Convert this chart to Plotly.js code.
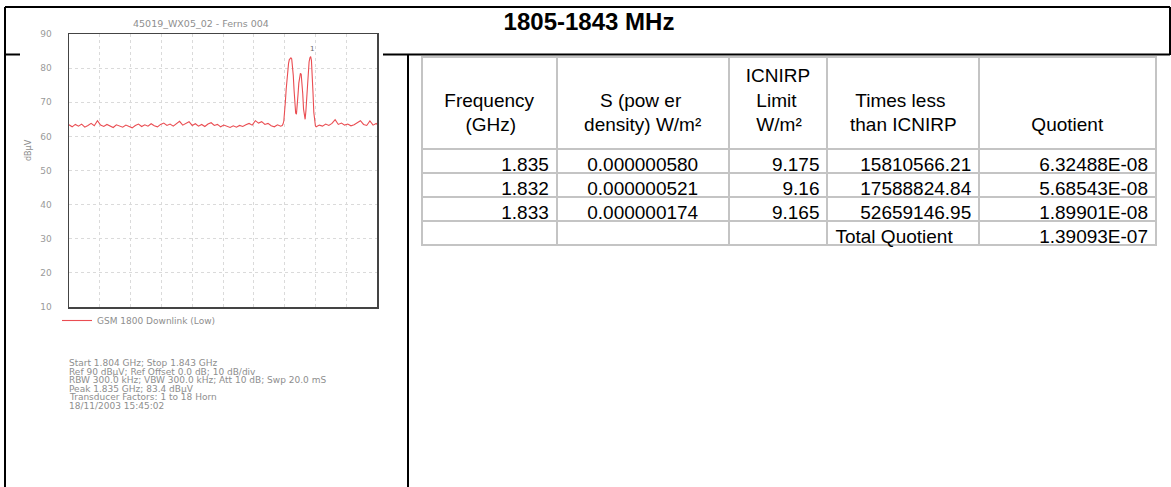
<!DOCTYPE html>
<html><head><meta charset="utf-8">
<script src="https://cdn.plot.ly/plotly-3.0.1.min.js"></script>
<style>html,body{margin:0;padding:0;background:#fff;overflow:hidden}#chart{width:1171px;height:487px}</style>
</head><body><div id="chart"></div>
<script>
// ---------- spectrum data ----------
const sweepFreqGHz = [
 1.8040,1.8044,1.8048,1.8052,1.8056,1.8060,1.8064,1.8068,1.8072,1.8076,
 1.8080,1.8084,1.8088,1.8092,1.8096,1.8100,1.8104,1.8108,1.8112,1.8116,
 1.8120,1.8124,1.8128,1.8132,1.8136,1.8140,1.8144,1.8148,1.8152,1.8156,
 1.8160,1.8164,1.8168,1.8172,1.8176,1.8180,1.8184,1.8188,1.8192,1.8196,
 1.8200,1.8204,1.8208,1.8212,1.8216,1.8220,1.8224,1.8228,1.8232,1.8236,
 1.8240,1.8244,1.8248,1.8252,1.8256,1.8260,1.8264,1.8268,1.8272,1.8276,
 1.8280,1.8284,1.8288,1.8292,1.8296,1.8300,1.8304,1.8308,
 1.8310,1.8311,1.8312,1.8313,1.8314,1.8315,1.8316,1.8317,1.8318,1.8319,
 1.8320,1.8321,1.8322,1.8323,1.8324,1.8325,1.8326,1.8327,1.8328,1.8329,
 1.8330,1.8331,1.8332,1.8333,1.8334,1.8335,1.8336,1.8337,1.8338,1.8339,
 1.8340,1.8341,1.8342,1.8343,1.8344,1.8345,1.8346,1.8347,1.8348,1.8349,
 1.8350,1.8351,1.8352,1.8353,
 1.8357,1.8361,1.8365,1.8369,1.8373,1.8377,1.8381,1.8385,1.8389,1.8393,
 1.8397,1.8401,1.8405,1.8409,1.8413,1.8417,1.8421,1.8425,1.8429,1.8430
];
const levelDbuV = [
 63.4,62.8,63.5,63.0,63.6,62.7,63.2,63.8,63.1,64.6,
 63.3,62.9,63.5,63.0,62.6,63.4,63.1,62.7,63.3,63.0,
 62.5,63.2,63.6,62.9,63.4,63.0,63.7,63.1,62.8,63.5,
 63.9,63.2,63.6,63.0,63.8,64.4,63.3,63.9,64.3,63.2,
 63.7,63.0,63.5,62.9,63.6,64.0,63.2,63.5,62.8,63.3,
 63.0,62.6,63.1,62.7,63.2,62.9,63.4,63.8,63.3,64.6,
 63.9,64.3,63.5,63.8,63.1,62.8,63.4,63.0,
 63.2,63.6,64.5,66.8,70.2,73.8,77.0,79.6,81.4,82.5,
 82.9,83.0,82.7,81.0,77.8,73.5,69.6,66.8,66.5,68.8,
 72.3,75.6,77.7,78.5,78.2,76.2,72.4,68.0,65.2,65.0,
 67.5,71.8,76.0,79.5,81.8,83.0,83.4,82.2,78.5,72.6,
 67.0,64.0,63.1,62.8,
 63.3,63.0,63.6,63.2,63.8,64.9,63.5,63.9,63.3,63.6,
 63.1,63.4,63.9,64.6,63.5,63.2,64.5,63.3,63.8,63.5
];
const traceName = 'GSM 1800 Downlink (Low)';
const spectrumTitle = '45019_WX05_02 - Ferns 004';
const yAxisLabel = 'dB\u03bcV';
const sweepRange = [1.804, 1.843];
const levelRange = [10, 90];
const infoLines = [
 'Start 1.804 GHz; Stop 1.843 GHz',
 'Ref 90 dB\u03bcV; Ref Offset 0.0 dB; 10 dB/div',
 'RBW 300.0 kHz; VBW 300.0 kHz; Att 10 dB; Swp 20.0 mS',
 'Peak 1.835 GHz; 83.4 dB\u03bcV',
 'Transducer Factors: 1 to 18 Horn',
 '18/11/2003 15:45:02'
];

// ---------- table data ----------
const tableTitle = '1805-1843 MHz';
const NB = '\u00a0';
const tableHeaders = [
 NB + '<br>Frequency<br>' + NB.repeat(4) + '(GHz)',
 NB + '<br>' + NB.repeat(3) + 'S (pow er<br>density) W/m\u00b2',
 'ICNIRP<br>' + NB.repeat(2) + 'Limit<br>' + NB.repeat(2) + 'W/m\u00b2',
 NB + '<br>' + NB + 'Times less<br>than ICNIRP',
 NB + '<br>' + NB + '<br>Quotient'
];
const colFrequency = ['1.835', '1.832', '1.833', ''];
const colPowerDensity = ['0.000000580', '0.000000521', '0.000000174', ''];
const colLimit = ['9.175', '9.16', '9.165', ''];
const colTimesLess = ['15810566.21', '17588824.84', '52659146.95', 'Total\u00a0Quotient'];
const colQuotient = ['6.32488E-08', '5.68543E-08', '1.89901E-08', '1.39093E-07'];

// ---------- layout helpers ----------
const W = 1171, H = 487;
const px = x => x / W;
const py = y => 1 - y / H;
const grey = '#8e8e8e';
const smallFont = 'DejaVu Sans, sans-serif';
const tableFont = 'Liberation Sans, Arial, sans-serif';

let peakIdx = 0;
levelDbuV.forEach((v, i) => { if (v > levelDbuV[peakIdx]) peakIdx = i; });

const spectrum = {
  type: 'scatter', mode: 'lines', name: traceName,
  x: sweepFreqGHz, y: levelDbuV,
  line: {color: '#ea4d52', width: 1.1},
  xaxis: 'x', yaxis: 'y', hoverinfo: 'skip'
};

const table = {
  type: 'table',
  domain: {x: [px(422), px(1157)], y: [0, py(57)]},
  columnwidth: [135, 172, 99, 152, 177],
  header: {
    values: tableHeaders, align: 'center', height: 92,
    font: {family: tableFont, size: 19, color: '#000'},
    line: {color: '#c4c4c4', width: 2}, fill: {color: '#fff'}
  },
  cells: {
    values: [colFrequency, colPowerDensity, colLimit, colTimesLess, colQuotient],
    align: ['right', 'center', 'right', ['right', 'right', 'right', 'left'], 'right'],
    height: 24,
    font: {family: tableFont, size: 19, color: '#000'},
    line: {color: '#c4c4c4', width: 2}, fill: {color: '#fff'}
  }
};

const frame = (x0, y0, x1, y1) => ({
  type: 'line', xref: 'paper', yref: 'paper',
  x0: px(x0), y0: py(y0), x1: px(x1), y1: py(y1),
  line: {color: '#000', width: 2}
});

const annotations = [
  {xref: 'paper', yref: 'paper', x: px(201), y: py(24), xanchor: 'center', yanchor: 'middle',
   text: spectrumTitle, showarrow: false, font: {family: smallFont, size: 9.5, color: grey}},
  {xref: 'paper', yref: 'paper', x: px(28), y: py(150), xanchor: 'center', yanchor: 'middle',
   text: yAxisLabel, textangle: -90, showarrow: false, font: {family: smallFont, size: 8, color: grey}},
  {xref: 'x', yref: 'y', x: sweepFreqGHz[peakIdx], y: levelDbuV[peakIdx], yshift: 8, xshift: 1,
   text: '1', showarrow: false, font: {family: smallFont, size: 7, color: '#666'}}
];
infoLines.forEach((t, i) => annotations.push({
  xref: 'paper', yref: 'paper', x: px(67), y: py(363 + i * 8.5), xanchor: 'left', yanchor: 'middle',
  text: t, showarrow: false, font: {family: smallFont, size: 9, color: grey}
}));

const axisCommon = {
  showline: true, linecolor: '#444', linewidth: 1.5, mirror: true,
  showgrid: true, gridcolor: '#dadada', griddash: 'dot', gridwidth: 1,
  zeroline: false, ticks: ''
};

const layout = {
  width: W, height: H, margin: {l: 0, r: 0, t: 0, b: 0, pad: 0},
  paper_bgcolor: '#fff', plot_bgcolor: '#fff',
  title: {text: '<b>' + tableTitle + '</b>', xref: 'paper', yref: 'paper',
          x: px(589), y: py(22), xanchor: 'center', yanchor: 'middle',
          font: {family: tableFont, size: 24, color: '#000'}},
  xaxis: Object.assign({}, axisCommon, {
    domain: [px(69), px(377)], range: sweepRange, tick0: sweepRange[0],
    dtick: (sweepRange[1] - sweepRange[0]) / 10, showticklabels: false, anchor: 'y'
  }),
  yaxis: Object.assign({}, axisCommon, {
    domain: [py(307), py(34)], range: levelRange, dtick: 10, anchor: 'x',
    tickfont: {family: smallFont, size: 9, color: '#9a9a9a'}, ticklabelstandoff: 14
  }),
  showlegend: true,
  legend: {x: px(57), y: py(306), xanchor: 'left', yanchor: 'top', bgcolor: 'rgba(0,0,0,0)',
           font: {family: smallFont, size: 9, color: grey}, itemwidth: 30},
  shapes: [
    frame(5, 7, 1170, 7),
    frame(5, 7, 5, 487),
    frame(1170, 7, 1170, 55),
    frame(5, 54.5, 20, 54.5),
    frame(383, 54.5, 1170, 54.5),
    frame(408, 54.5, 408, 487)
  ],
  annotations: annotations
};

Plotly.newPlot('chart', [spectrum, table], layout, {displayModeBar: false, staticPlot: true});
</script>
</body></html>
